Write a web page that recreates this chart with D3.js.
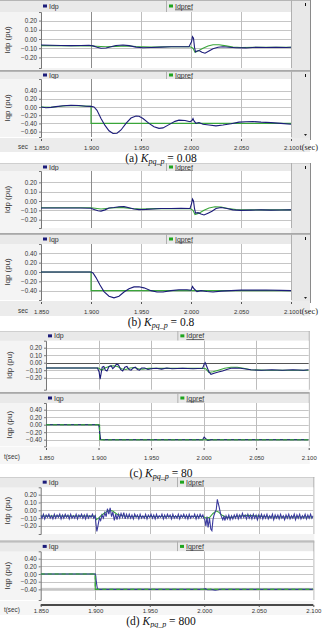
<!DOCTYPE html>
<html><head><meta charset="utf-8">
<script src="https://cdn.jsdelivr.net/npm/d3@7"></script>
<style>body{margin:0;background:#fff}svg{display:block}</style>
</head><body>
<script>
// ---------------- DATA ----------------
const xTickValues = [1.850, 1.900, 1.950, 2.000, 2.050, 2.100];
const xTickLabels = ["1.850", "1.900", "1.950", "2.000", "2.050", "2.100"];
const idTickValues = [0.20, 0.10, 0.00, -0.10, -0.20];
const iqTickValuesA = [0.40, 0.20, 0.00, -0.20, -0.40, -0.60];
const iqTickValues = [0.40, 0.20, 0.00, -0.20, -0.40];
const seriesNames = ["Idp", "Idpref", "Iqp", "Iqpref"];
const yTitles = ["Idp (pu)", "Iqp (pu)"];
const captionLetters = ["a", "b", "c", "d"];
const captionGains = ["0.08", "0.8", "80", "800"];

// (a) Kpq_p = 0.08
const idpA = [[1.850,-0.065],[1.860,-0.068],[1.870,-0.070],[1.880,-0.072],[1.890,-0.070],[1.898,-0.068],[1.902,-0.075],[1.906,-0.090],[1.910,-0.100],[1.915,-0.098],[1.920,-0.085],[1.925,-0.070],[1.932,-0.066],[1.938,-0.072],[1.945,-0.088],[1.952,-0.095],[1.960,-0.092],[1.970,-0.088],[1.980,-0.085],[1.990,-0.085],[1.998,-0.085],[2.0005,-0.03],[2.0015,0.025],[2.0025,0.01],[2.0035,-0.09],[2.0045,-0.14],[2.006,-0.13],[2.008,-0.125],[2.011,-0.145],[2.014,-0.155],[2.018,-0.13],[2.022,-0.105],[2.027,-0.09],[2.032,-0.085],[2.038,-0.09],[2.045,-0.095],[2.055,-0.097],[2.065,-0.09],[2.075,-0.093],[2.085,-0.09],[2.095,-0.092],[2.100,-0.09]];
const idprefA = [[1.850,-0.072],[1.900,-0.075],[1.905,-0.078],[1.915,-0.085],[1.925,-0.080],[1.935,-0.075],[1.945,-0.082],[1.960,-0.088],[1.980,-0.085],[1.999,-0.085],[2.002,-0.10],[2.004,-0.145],[2.007,-0.13],[2.012,-0.10],[2.017,-0.075],[2.022,-0.062],[2.028,-0.062],[2.035,-0.075],[2.042,-0.088],[2.050,-0.092],[2.100,-0.09]];
const iqpA = [[1.850,0.00],[1.855,-0.02],[1.860,-0.01],[1.865,0.01],[1.872,0.03],[1.880,0.04],[1.888,0.035],[1.895,0.02],[1.900,0.015],[1.903,0.00],[1.906,-0.08],[1.910,-0.28],[1.914,-0.45],[1.918,-0.58],[1.922,-0.645],[1.926,-0.64],[1.930,-0.56],[1.935,-0.40],[1.940,-0.27],[1.945,-0.22],[1.948,-0.225],[1.952,-0.28],[1.958,-0.40],[1.963,-0.48],[1.968,-0.52],[1.972,-0.51],[1.978,-0.43],[1.984,-0.35],[1.988,-0.32],[1.994,-0.33],[1.999,-0.36],[2.001,-0.33],[2.002,-0.28],[2.003,-0.34],[2.005,-0.40],[2.008,-0.38],[2.012,-0.42],[2.018,-0.44],[2.025,-0.46],[2.032,-0.44],[2.040,-0.41],[2.048,-0.37],[2.055,-0.36],[2.062,-0.355],[2.070,-0.37],[2.080,-0.38],[2.090,-0.40],[2.100,-0.42]];
const iqprefA = [[1.850,0.00],[1.860,-0.005],[1.875,0.03],[1.885,0.03],[1.900,0.015],[1.900,-0.40],[2.100,-0.40]];

// (b) Kpq_p = 0.8
const idpB = [[1.850,-0.075],[1.870,-0.075],[1.890,-0.075],[1.900,-0.078],[1.903,-0.09],[1.907,-0.105],[1.910,-0.108],[1.914,-0.095],[1.918,-0.075],[1.923,-0.070],[1.928,-0.062],[1.933,-0.060],[1.938,-0.072],[1.943,-0.085],[1.948,-0.092],[1.955,-0.090],[1.962,-0.085],[1.970,-0.080],[1.980,-0.080],[1.990,-0.078],[1.999,-0.08],[2.0005,-0.03],[2.0015,0.02],[2.0025,0.00],[2.0035,-0.08],[2.0045,-0.13],[2.007,-0.125],[2.010,-0.14],[2.013,-0.15],[2.017,-0.13],[2.021,-0.11],[2.025,-0.08],[2.030,-0.07],[2.036,-0.08],[2.042,-0.095],[2.050,-0.10],[2.060,-0.098],[2.070,-0.095],[2.080,-0.098],[2.090,-0.096],[2.100,-0.095]];
const idprefB = [[1.850,-0.072],[1.900,-0.073],[1.910,-0.085],[1.920,-0.075],[1.930,-0.068],[1.940,-0.080],[1.950,-0.085],[1.965,-0.082],[1.999,-0.080],[2.002,-0.10],[2.004,-0.145],[2.008,-0.13],[2.013,-0.10],[2.018,-0.075],[2.024,-0.062],[2.030,-0.065],[2.037,-0.080],[2.045,-0.092],[2.055,-0.095],[2.100,-0.095]];
const iqpB = [[1.850,0.00],[1.900,0.00],[1.902,-0.02],[1.905,-0.12],[1.909,-0.28],[1.913,-0.42],[1.918,-0.52],[1.923,-0.555],[1.928,-0.52],[1.933,-0.43],[1.938,-0.36],[1.943,-0.32],[1.948,-0.315],[1.953,-0.34],[1.960,-0.40],[1.966,-0.43],[1.972,-0.43],[1.980,-0.40],[1.988,-0.38],[1.996,-0.38],[2.000,-0.39],[2.0015,-0.31],[2.003,-0.36],[2.006,-0.42],[2.010,-0.40],[2.016,-0.42],[2.022,-0.43],[2.030,-0.41],[2.040,-0.40],[2.050,-0.39],[2.060,-0.39],[2.075,-0.385],[2.090,-0.395],[2.100,-0.40]];
const iqprefB = [[1.850,0.00],[1.900,0.00],[1.900,-0.40],[2.100,-0.40]];

// (c) Kpq_p = 80
const idpC = [[1.850,-0.07],[1.899,-0.07],[1.9005,-0.12],[1.9015,-0.22],[1.9025,-0.14],[1.9035,-0.06],[1.905,-0.05],[1.9065,-0.10],[1.908,-0.11],[1.910,-0.05],[1.912,-0.04],[1.9135,-0.08],[1.915,-0.06],[1.917,-0.02],[1.919,-0.03],[1.921,-0.09],[1.923,-0.11],[1.925,-0.06],[1.927,-0.05],[1.929,-0.09],[1.931,-0.10],[1.933,-0.07],[1.935,-0.06],[1.937,-0.09],[1.939,-0.10],[1.941,-0.07],[1.944,-0.07],[1.947,-0.09],[1.950,-0.08],[1.955,-0.075],[1.960,-0.085],[1.965,-0.07],[1.970,-0.08],[1.980,-0.075],[1.990,-0.08],[1.999,-0.075],[2.0005,-0.02],[2.0015,0.00],[2.003,-0.05],[2.005,-0.12],[2.007,-0.155],[2.010,-0.14],[2.014,-0.125],[2.018,-0.11],[2.022,-0.09],[2.026,-0.075],[2.030,-0.07],[2.035,-0.075],[2.040,-0.085],[2.045,-0.095],[2.055,-0.10],[2.065,-0.095],[2.075,-0.10],[2.085,-0.095],[2.095,-0.10],[2.100,-0.095]];
const idprefC = [[1.850,-0.07],[1.900,-0.07],[1.903,-0.10],[1.906,-0.07],[1.910,-0.05],[1.914,-0.04],[1.918,-0.05],[1.922,-0.08],[1.926,-0.09],[1.930,-0.07],[1.934,-0.065],[1.938,-0.08],[1.942,-0.085],[1.948,-0.075],[1.960,-0.075],[1.999,-0.075],[2.002,-0.08],[2.005,-0.13],[2.009,-0.12],[2.014,-0.10],[2.020,-0.075],[2.026,-0.06],[2.032,-0.06],[2.038,-0.075],[2.045,-0.095],[2.060,-0.10],[2.100,-0.10]];
const iqpC = [[1.850,0.00],[1.900,0.00],[1.9005,-0.05],[1.9015,-0.30],[1.902,-0.39],[1.905,-0.40],[1.999,-0.40],[2.0005,-0.33],[2.002,-0.37],[2.004,-0.42],[2.007,-0.40],[2.100,-0.40]];
const iqprefC = [[1.850,0.00],[1.901,0.00],[1.901,-0.40],[2.100,-0.40]];

// (d) Kpq_p = 800
const idpD = [[1.8500,-0.06],[1.8512,-0.10],[1.8525,-0.05],[1.8537,-0.11],[1.8550,-0.06],[1.8562,-0.09],[1.8575,-0.05],[1.8587,-0.10],[1.8600,-0.07],[1.8612,-0.11],[1.8625,-0.05],[1.8637,-0.10],[1.8650,-0.06],[1.8662,-0.09],[1.8675,-0.05],[1.8687,-0.11],[1.8700,-0.06],[1.8712,-0.10],[1.8725,-0.05],[1.8737,-0.09],[1.8750,-0.06],[1.8762,-0.11],[1.8775,-0.05],[1.8787,-0.10],[1.8800,-0.07],[1.8812,-0.10],[1.8825,-0.05],[1.8837,-0.11],[1.8850,-0.06],[1.8862,-0.09],[1.8875,-0.05],[1.8887,-0.10],[1.8900,-0.06],[1.8912,-0.11],[1.8925,-0.05],[1.8937,-0.10],[1.8950,-0.07],[1.8962,-0.09],[1.8975,-0.05],[1.8987,-0.10],[1.9000,-0.07],
[1.9005,-0.15],[1.9015,-0.27],[1.9025,-0.20],[1.9038,-0.10],[1.9050,-0.13],[1.9062,-0.06],[1.9075,-0.10],[1.9088,-0.03],[1.9100,-0.08],[1.9112,0.02],[1.9125,-0.05],[1.9137,0.03],[1.9150,-0.08],[1.9162,-0.02],[1.9175,-0.13],[1.9188,-0.05],[1.9200,-0.12],[1.9212,-0.05],[1.9225,-0.10],[1.9237,-0.04],[1.9250,-0.09],[1.9262,-0.03],[1.9275,-0.11],[1.9287,-0.05],[1.9300,-0.10],
[1.9312,-0.05],[1.9325,-0.10],[1.9337,-0.06],[1.9350,-0.11],[1.9362,-0.05],[1.9375,-0.09],[1.9387,-0.06],[1.9400,-0.11],[1.9412,-0.05],[1.9425,-0.10],[1.9437,-0.07],[1.9450,-0.10],[1.9462,-0.05],[1.9475,-0.11],[1.9487,-0.06],[1.9500,-0.09],[1.9512,-0.05],[1.9525,-0.10],[1.9537,-0.06],[1.9550,-0.11],[1.9562,-0.05],[1.9575,-0.10],[1.9587,-0.07],[1.9600,-0.09],[1.9612,-0.05],[1.9625,-0.11],[1.9637,-0.06],[1.9650,-0.10],[1.9662,-0.05],[1.9675,-0.09],[1.9687,-0.06],[1.9700,-0.11],[1.9712,-0.05],[1.9725,-0.10],[1.9737,-0.07],[1.9750,-0.10],[1.9762,-0.05],[1.9775,-0.11],[1.9787,-0.06],[1.9800,-0.09],[1.9812,-0.05],[1.9825,-0.10],[1.9837,-0.06],[1.9850,-0.11],[1.9862,-0.05],[1.9875,-0.10],[1.9887,-0.07],[1.9900,-0.09],[1.9912,-0.05],[1.9925,-0.11],[1.9937,-0.06],[1.9950,-0.10],[1.9962,-0.05],[1.9975,-0.09],[1.9987,-0.06],[1.9995,-0.10],
[2.0005,-0.12],[2.0015,-0.20],[2.0025,-0.08],[2.0035,-0.22],[2.0048,-0.10],[2.0060,-0.24],[2.0070,-0.26],[2.0080,-0.12],[2.0090,-0.06],[2.0100,-0.02],[2.0110,0.01],[2.0120,0.14],[2.0128,0.09],[2.0137,0.04],[2.0150,-0.05],[2.0160,-0.09],[2.0170,-0.12],[2.0180,-0.08],[2.0190,-0.13],[2.0200,-0.07],[2.0212,-0.11],[2.0225,-0.06],[2.0237,-0.12],[2.0250,-0.07],
[2.0262,-0.11],[2.0275,-0.06],[2.0287,-0.10],[2.0300,-0.05],[2.0312,-0.11],[2.0325,-0.06],[2.0337,-0.10],[2.0350,-0.04],[2.0362,-0.09],[2.0375,-0.06],[2.0387,-0.11],[2.0400,-0.05],[2.0412,-0.10],[2.0425,-0.06],[2.0437,-0.11],[2.0450,-0.05],[2.0462,-0.10],[2.0475,-0.06],[2.0487,-0.12],[2.0500,-0.06],[2.0512,-0.10],[2.0525,-0.05],[2.0537,-0.11],[2.0550,-0.06],[2.0562,-0.10],[2.0575,-0.05],[2.0587,-0.11],[2.0600,-0.07],[2.0612,-0.10],[2.0625,-0.05],[2.0637,-0.12],[2.0650,-0.06],[2.0662,-0.10],[2.0675,-0.06],[2.0687,-0.11],[2.0700,-0.05],[2.0712,-0.10],[2.0725,-0.07],[2.0737,-0.12],[2.0750,-0.06],[2.0762,-0.10],[2.0775,-0.05],[2.0787,-0.11],[2.0800,-0.07],[2.0812,-0.10],[2.0825,-0.05],[2.0837,-0.12],[2.0850,-0.06],[2.0862,-0.10],[2.0875,-0.05],[2.0887,-0.11],[2.0900,-0.07],[2.0912,-0.10],[2.0925,-0.05],[2.0937,-0.11],[2.0950,-0.06],[2.0962,-0.10],[2.0975,-0.05],[2.0987,-0.10],[2.1000,-0.07]];
const idprefD = [[1.850,-0.075],[1.900,-0.075],[1.901,-0.12],[1.903,-0.10],[1.906,-0.06],[1.910,-0.02],[1.913,0.00],[1.916,-0.01],[1.920,-0.05],[1.925,-0.07],[1.930,-0.08],[1.999,-0.08],[2.002,-0.10],[2.005,-0.09],[2.008,-0.04],[2.011,-0.01],[2.013,-0.02],[2.016,-0.06],[2.020,-0.09],[2.025,-0.09],[2.030,-0.075],[2.040,-0.065],[2.050,-0.075],[2.060,-0.085],[2.100,-0.085]];
const iqpD = [[1.850,0.00],[1.900,0.00],[1.9005,-0.05],[1.901,-0.20],[1.9015,-0.30],[1.902,-0.38],[1.903,-0.40],[1.999,-0.40],[2.001,-0.38],[2.003,-0.41],[2.006,-0.40],[2.010,-0.42],[2.014,-0.40],[2.100,-0.40]];
const iqprefD = [[1.850,0.00],[1.900,0.00],[1.900,-0.40],[2.100,-0.40]];

// ---------------- LAYOUT ----------------
const W = 322, H = 628;
const NAVY = "#1c1c7a", GREEN = "#3aa63a", GRID = "#c6c6c6";
const FONT = "'Liberation Sans', Arial, sans-serif";
const SERIF = "'Liberation Serif', 'Times New Roman', serif";
const figs = [
  {x0:41, x1:291, rightGray:true, axisLabel:"sec", axisY:147, capY:161.5, darkVert:true,
   top:{legTop:0, top:12, bot:68, zero:39, k:92, ticks:idTickValues, s:[idpA, idprefA]},
   bottom:{legTop:71, top:79, bot:137, zero:107, k:41, ticks:iqTickValuesA, s:[iqpA, iqprefA]}, axisTop:138, axisBot:152},
  {x0:41, x1:291, rightGray:true, axisLabel:"sec", axisY:311, capY:326, darkVert:true,
   top:{legTop:163, top:171, bot:228, zero:201, k:93.3, ticks:idTickValues, s:[idpB, idprefB]},
   bottom:{legTop:234, top:244, bot:300, zero:272, k:46.6, ticks:iqTickValues, s:[iqpB, iqprefB]}, axisTop:301, axisBot:316},
  {x0:46, x1:308.7, rightGray:false, axisLabel:"t(sec)", axisY:457, capY:476.5, zeroDark:true,
   top:{legTop:331, top:340.7, bot:389.7, zero:362.7, k:75, ticks:idTickValues, s:[idpC, idprefC]},
   bottom:{legTop:393, top:403, bot:446.3, zero:424.7, k:37.5, ticks:iqTickValues, s:[iqpC, iqprefC]}, axisTop:447, axisBot:464},
  {x0:40.7, x1:313.3, rightGray:false, axisLabel:"t(sec)", axisY:610, capY:624.5, thickAxis:true, band:-0.40,
   top:{legTop:477, top:487.3, bot:534, zero:510.3, k:78.3, ticks:idTickValues, s:[idpD, idprefD]},
   bottom:{legTop:541.5, top:551.3, bot:600, zero:574, k:38.4, ticks:iqTickValues, s:[iqpD, iqprefD]}, axisTop:601, axisBot:615}
];

const svg = d3.select("body").append("svg").attr("width", W).attr("height", H)
  .style("font-family", FONT);

figs.forEach((F, fi) => {
  const g = svg.append("g");
  const x = d3.scaleLinear().domain([xTickValues[0], xTickValues[xTickValues.length-1]]).range([F.x0, F.x1]);
  const rightEdge = F.rightGray ? 310 : F.x1 + 1;
  g.append("rect").attr("x", 0).attr("y", F.top.legTop).attr("width", rightEdge).attr("height", F.bottom.bot - F.top.legTop)
    .attr("fill", "#f4f4f4");
  if (F.rightGray) {
    g.append("rect").attr("x", F.x1).attr("y", F.top.legTop).attr("width", rightEdge - F.x1).attr("height", F.axisTop - F.top.legTop + 2)
      .attr("fill", "#e8e8e8");
    g.append("line").attr("x1", rightEdge + 0.5).attr("x2", rightEdge + 0.5).attr("y1", F.top.legTop).attr("y2", F.axisTop + 2)
      .attr("stroke", "#8a8a8a");
    g.append("rect").attr("x", 305).attr("y", F.top.legTop + 3).attr("width", 1).attr("height", 3).attr("fill", "#111");
    g.append("rect").attr("x", 305).attr("y", F.bottom.legTop + 3).attr("width", 1).attr("height", 3).attr("fill", "#111");
    g.append("path").attr("d", `M${304},${F.axisTop - 4} l3,0 l-1.5,2 z`).attr("fill", "#222");
  }
  g.append("rect").attr("x", 0).attr("y", F.axisTop).attr("width", rightEdge).attr("height", F.axisBot - F.axisTop)
    .attr("fill", F.rightGray ? "#ececec" : "#f6f6f6");

  ["top", "bottom"].forEach((pk, pi) => {
    const P = F[pk];
    const y = d3.scaleLinear().domain([(P.zero - P.bot) / P.k, (P.zero - P.top) / P.k]).range([P.bot, P.top]);
    g.append("rect").attr("x", 0).attr("y", P.legTop).attr("width", F.x1).attr("height", P.top - P.legTop)
      .attr("fill", "#e9e9e9");
    g.append("line").attr("x1", 0).attr("x2", rightEdge).attr("y1", P.legTop + 0.5).attr("y2", P.legTop + 0.5)
      .attr("stroke", pi === 0 && fi > 0 ? "#cfcfcf" : "#b5b5b5");
    const xm = (F.x0 + F.x1) / 2;
    g.append("line").attr("x1", xm + 0.5).attr("x2", xm + 0.5).attr("y1", P.legTop).attr("y2", P.top)
      .attr("stroke", "#b0b0b0");
    g.append("line").attr("x1", F.x1 + 0.5).attr("x2", F.x1 + 0.5).attr("y1", P.legTop).attr("y2", P.bot)
      .attr("stroke", "#b0b0b0");
    const cy = (P.legTop + P.top) / 2;
    const names = [seriesNames[pi * 2], seriesNames[pi * 2 + 1]];
    [[F.x0 + 2, NAVY, names[0], false], [xm + 3, "#1fa51f", names[1], true]].forEach(([lx, col, nm, ul]) => {
      g.append("rect").attr("x", lx).attr("y", cy - 1.5).attr("width", 4).attr("height", 3).attr("fill", col);
      const t = g.append("text").attr("x", lx + 6).attr("y", cy + 2.5).attr("font-size", 7).attr("fill", "#333").text(nm);
      if (ul) t.attr("text-decoration", "underline");
    });
    g.append("rect").attr("x", F.x0).attr("y", P.top).attr("width", F.x1 - F.x0).attr("height", P.bot - P.top)
      .attr("fill", "#fff");
    if (F.band !== undefined && pi === 1) {
      g.append("rect").attr("x", F.x0).attr("y", y(F.band) - 1.5).attr("width", F.x1 - F.x0).attr("height", 3)
        .attr("fill", "#cdcdcd");
    }
    g.selectAll(null).data(P.ticks).join("line")
      .attr("x1", F.x0).attr("x2", F.x1)
      .attr("y1", d => Math.round(y(d)) + 0.5).attr("y2", d => Math.round(y(d)) + 0.5)
      .attr("stroke", d => (F.zeroDark && pi === 0 && d === 0) ? "#555" : GRID);
    g.selectAll(null).data(xTickValues.slice(1, -1)).join("line")
      .attr("x1", d => Math.round(x(d)) + 0.5).attr("x2", d => Math.round(x(d)) + 0.5)
      .attr("y1", P.top).attr("y2", P.bot)
      .attr("stroke", (d, i) => (F.darkVert && i === 0) ? "#8c8c8c" : "#bdbdbd");
    const ya = d3.axisLeft(y).tickValues(P.ticks).tickSize(2).tickFormat(d3.format(".2f"));
    const ag = g.append("g").attr("transform", `translate(${F.x0},0)`).call(ya);
    ag.select(".domain").attr("stroke", "#777");
    ag.selectAll(".tick line").attr("stroke", "#777");
    ag.selectAll(".tick text").attr("font-size", 6.3).attr("fill", "#333")
      .attr("font-family", FONT).attr("x", -4);
    g.append("text").attr("transform", `translate(${fi === 2 ? 12 : 10},${(P.top + P.bot) / 2}) rotate(-90)`)
      .attr("text-anchor", "middle").attr("font-size", 8).attr("fill", "#333").text(yTitles[pi]);
    const line = d3.line().x(d => x(d[0])).y(d => y(d[1]));
    const clipId = `clip${fi}${pi}`;
    g.append("clipPath").attr("id", clipId).append("rect")
      .attr("x", F.x0).attr("y", P.top).attr("width", F.x1 - F.x0).attr("height", P.bot - P.top);
    const lg = g.append("g").attr("clip-path", `url(#${clipId})`);
    lg.append("path").datum(P.s[1]).attr("d", line).attr("fill", "none").attr("stroke", GREEN).attr("stroke-width", 1.1);
    lg.append("path").datum(P.s[0]).attr("d", line).attr("fill", "none")
      .attr("stroke", fi === 3 ? "#3b3b9e" : NAVY).attr("stroke-width", 1.1);
    if (pi === 1 && fi >= 2) {
      lg.append("path").datum(P.s[1]).attr("d", line).attr("fill", "none").attr("stroke", GREEN)
        .attr("stroke-width", 1.1).attr("stroke-dasharray", "4,3");
    }
  });
  g.append("line").attr("x1", 0).attr("x2", rightEdge).attr("y1", F.bottom.legTop - 0.5).attr("y2", F.bottom.legTop - 0.5)
    .attr("stroke", "#a8a8a8");

  if (F.thickAxis) {
    g.append("line").attr("x1", F.x0).attr("x2", F.x1).attr("y1", F.axisTop + 4).attr("y2", F.axisTop + 4)
      .attr("stroke", "#111").attr("stroke-width", 1.6);
  }
  const xa = d3.axisBottom(x).tickValues(xTickValues).tickSize(2).tickFormat((d, i) => xTickLabels[i]);
  const xg = g.append("g").attr("transform", `translate(0,${F.axisTop + (F.thickAxis ? 4 : 1)})`).call(xa);
  xg.select(".domain").remove();
  xg.selectAll(".tick line").attr("stroke", "#555");
  xg.selectAll(".tick text").attr("font-size", 6).attr("fill", "#333")
    .attr("font-family", FONT)
    .attr("y", null).attr("dy", null)
    .attr("transform", `translate(0,${F.axisY + 2.5 - F.axisTop - (F.thickAxis ? 4 : 1)})`);
  g.append("text").attr("x", F.rightGray ? 18 : 4).attr("y", F.axisY + 2).attr("font-size", 6.3).attr("fill", "#333")
    .text(F.axisLabel);
  if (F.rightGray) {
    g.append("text").attr("x", 299.5).attr("y", F.axisY + 2.5).attr("font-size", 8.3)
      .attr("font-family", SERIF).attr("fill", "#222").text("t(sec)");
  }
});

// captions drawn last so no panel covers them
figs.forEach((F, fi) => {
  const cap = svg.append("text").attr("x", W / 2).attr("y", F.capY).attr("text-anchor", "middle")
    .attr("font-family", SERIF).attr("font-size", 11.5).attr("fill", "#111");
  cap.append("tspan").text(`(${captionLetters[fi]}) `);
  cap.append("tspan").attr("font-style", "italic").text("K");
  cap.append("tspan").attr("font-style", "italic").attr("font-size", 8).attr("dy", 2).text("pq_p");
  cap.append("tspan").attr("dy", -2).text(` = ${captionGains[fi]}`);
});
</script>
</body></html>
